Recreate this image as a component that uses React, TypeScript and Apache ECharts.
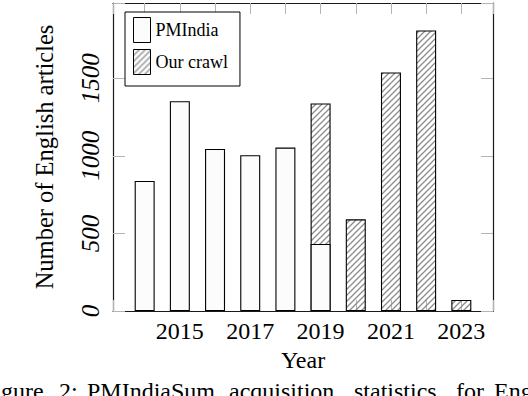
import React, { useEffect, useRef } from 'react';
import * as echarts from 'echarts';

const years = [2014, 2015, 2016, 2017, 2018, 2019, 2020, 2021, 2022, 2023];
const pmIndia = [838, 1352, 1044, 1004, 1053, 432, null, null, null, null];
const ourCrawl = [null, null, null, null, null, 906, 591, 1537, 1808, 71];
const yTickLabels = [0, 500, 1000, 1500];
const xTickLabels = [2015, 2017, 2019, 2021, 2023];
const seriesNames = ['PMIndia', 'Our crawl'];
const captionWords = ['Figure', '2:', 'PMIndiaSum', 'acquisition', 'statistics', 'for', 'English'];

const X_MIN = 2013.1;
const X_MAX = 2023.9;
const Y_MAX = 1985;
const FONT = "'Liberation Serif', 'Times New Roman', serif";
const captionX = [-19, 59, 87, 229, 354, 456, 494];

function makeHatch(): HTMLCanvasElement {
  const c = document.createElement('canvas');
  const s = 6;
  c.width = s;
  c.height = s;
  const ctx = c.getContext('2d')!;
  ctx.strokeStyle = '#8c8c8c';
  ctx.lineWidth = 1.3;
  ctx.beginPath();
  ctx.moveTo(-1, s + 1);
  ctx.lineTo(s + 1, -1);
  ctx.moveTo(-2, 2);
  ctx.lineTo(2, -2);
  ctx.moveTo(s - 2, s + 2);
  ctx.lineTo(s + 2, s - 2);
  ctx.stroke();
  return c;
}

export default function App() {
  const ref = useRef<HTMLDivElement>(null);
  useEffect(() => {
    if (!ref.current) return;
    const chart = echarts.init(ref.current, undefined, { renderer: 'svg' });
    const hatch = makeHatch();
    const axisLineStyle = { color: '#1a1a1a', width: 1.2 };
    const tickStyle = { color: '#b4b4b4', width: 1 };

    // stacked totals: the crawl bar sits on top of the PMIndia bar of the same year
    const pmData = years
      .map((y, i) => (pmIndia[i] == null ? null : [y, pmIndia[i]]))
      .filter((d) => d !== null);
    const crawlData = years
      .map((y, i) => (ourCrawl[i] == null ? null : [y, (pmIndia[i] ?? 0) + (ourCrawl[i] as number)]))
      .filter((d) => d !== null);

    const option: any = {
      animation: false,
      backgroundColor: '#fff',
      grid: { left: 113, right: 35, top: 2, bottom: 85, containLabel: false },
      legend: {
        orient: 'vertical',
        left: 125,
        top: 12,
        data: seriesNames,
        icon: 'rect',
        itemWidth: 17,
        itemHeight: 25,
        itemGap: 6,
        padding: [5, 12, 11, 8],
        borderColor: '#000',
        borderWidth: 1,
        backgroundColor: '#fff',
        textStyle: { fontFamily: FONT, fontSize: 18, color: '#000', padding: [10, 0, 0, 0] },
        itemStyle: { borderColor: '#000', borderWidth: 1 },
        z: 10,
      },
      xAxis: [
        {
          type: 'value',
          min: X_MIN,
          max: X_MAX,
          splitNumber: 10,
          name: 'Year',
          nameLocation: 'middle',
          nameGap: 36,
          nameTextStyle: { fontFamily: FONT, fontSize: 24, color: '#000' },
          axisLine: { show: true, onZero: false, lineStyle: axisLineStyle },
          axisTick: { show: true, inside: true, length: 11, lineStyle: tickStyle },
          splitLine: { show: false },
          axisLabel: {
            margin: 8,
            fontFamily: FONT,
            fontSize: 24,
            color: '#000',
            showMinLabel: true,
            showMaxLabel: true,
            formatter: (v: number) => (xTickLabels.includes(Math.round(v * 1000) / 1000) ? String(v) : ''),
          },
        },
        {
          type: 'value',
          position: 'top',
          min: X_MIN,
          max: X_MAX,
          splitNumber: 10,
          axisLine: { show: true, onZero: false, lineStyle: axisLineStyle },
          axisTick: { show: true, inside: true, length: 11, lineStyle: tickStyle },
          splitLine: { show: false },
          axisLabel: { show: false },
        },
      ],
      yAxis: [
        {
          type: 'value',
          min: 0,
          max: Y_MAX,
          interval: 500,
          name: 'Number of English articles',
          nameLocation: 'middle',
          nameGap: 56,
          nameRotate: 90,
          nameTextStyle: { fontFamily: FONT, fontSize: 24.5, color: '#000' },
          axisLine: { show: true, onZero: false, lineStyle: axisLineStyle },
          axisTick: { show: true, inside: true, length: 12, lineStyle: tickStyle },
          splitLine: { show: false },
          axisLabel: {
            rotate: 90,
            margin: 10,
            fontFamily: FONT,
            fontStyle: 'italic',
            fontSize: 25,
            color: '#000',
            formatter: (v: number) => (yTickLabels.includes(v) ? String(v) : ''),
          },
        },
        {
          type: 'value',
          position: 'right',
          min: 0,
          max: Y_MAX,
          interval: 500,
          axisLine: { show: true, onZero: false, lineStyle: axisLineStyle },
          axisTick: { show: true, inside: true, length: 12, lineStyle: tickStyle },
          splitLine: { show: false },
          axisLabel: { show: false },
        },
      ],
      series: [
        {
          name: seriesNames[1],
          type: 'bar',
          barWidth: 20,
          barGap: '-100%',
          z: 2,
          xAxisIndex: 0,
          yAxisIndex: 0,
          data: crawlData,
          itemStyle: {
            color: { image: hatch, repeat: 'repeat' },
            borderColor: '#000',
            borderWidth: 1.1,
          },
        },
        {
          name: seriesNames[0],
          type: 'bar',
          barWidth: 20,
          barGap: '-100%',
          z: 3,
          xAxisIndex: 0,
          yAxisIndex: 0,
          data: pmData,
          itemStyle: { color: '#fcfcfc', borderColor: '#000', borderWidth: 1.1 },
        },
      ],
      graphic: captionWords.map((w, i) => ({
        type: 'text',
        x: captionX[i],
        y: 391,
        silent: true,
        style: {
          text: w,
          fontFamily: FONT,
          fontSize: 24,
          fill: '#000',
          verticalAlign: 'middle',
          align: 'left',
        },
      })),
    };
    chart.setOption(option);
    return () => chart.dispose();
  }, []);
  return (
    <div
      ref={ref}
      style={{ position: 'absolute', left: 0, top: 0, width: 528, height: 396 }}
    />
  );
}
